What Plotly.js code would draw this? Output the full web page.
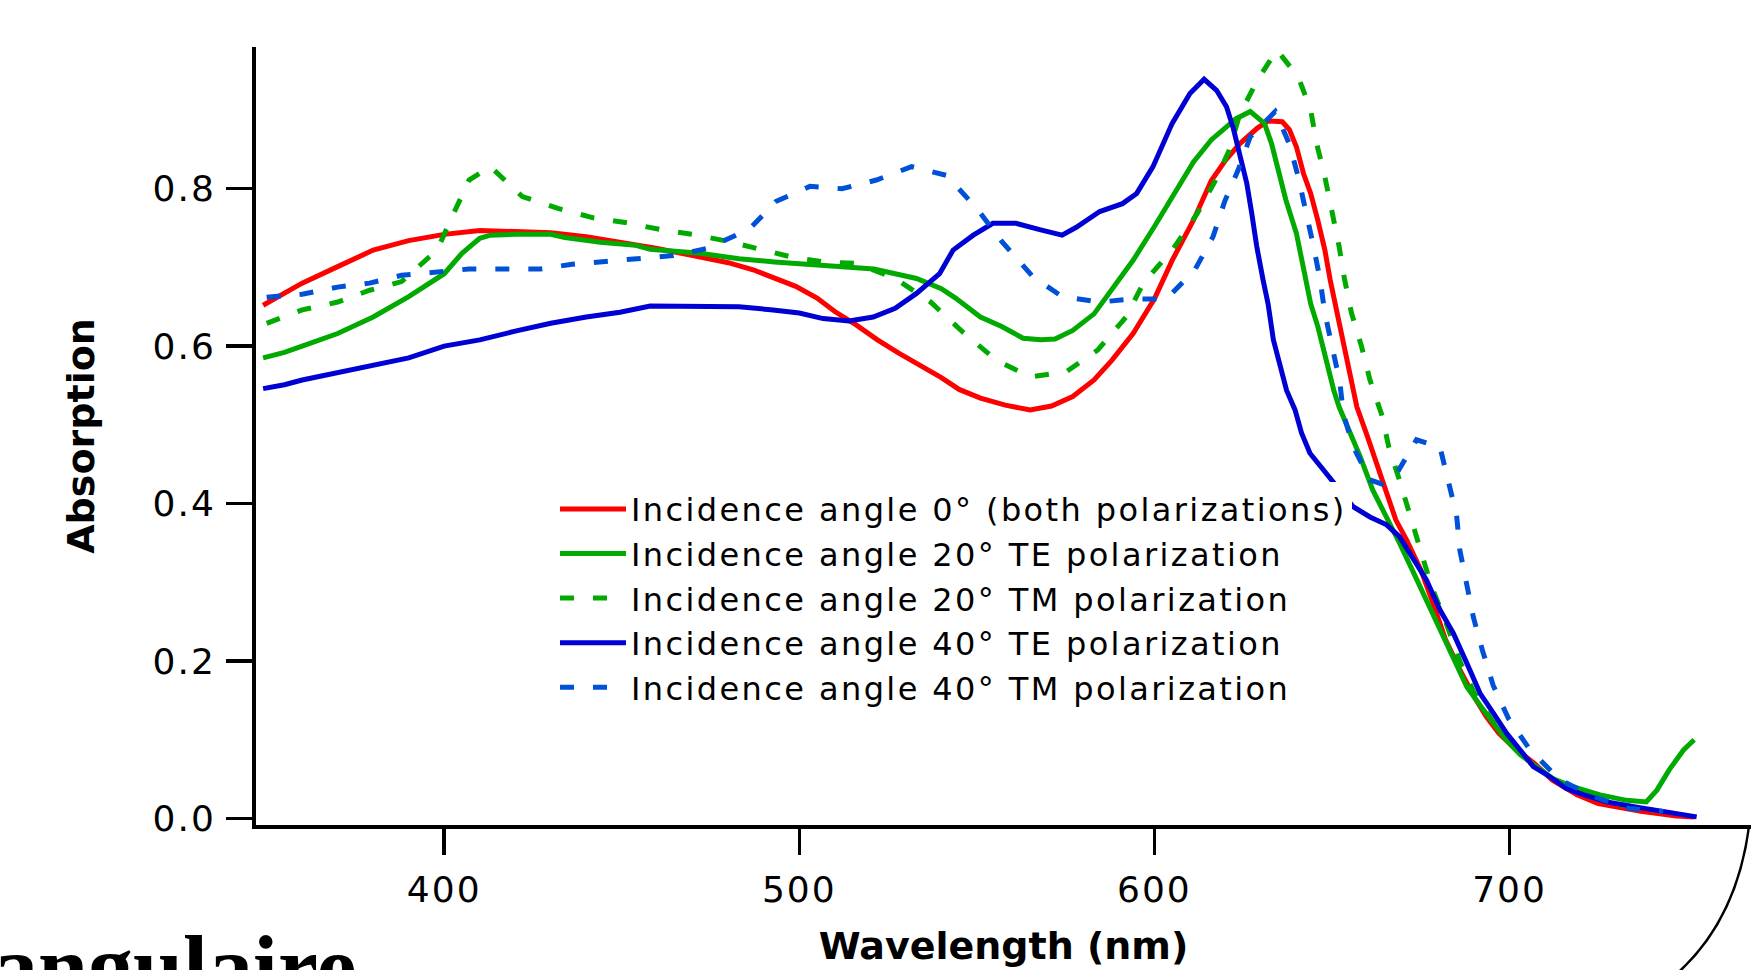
<!DOCTYPE html>
<html>
<head>
<meta charset="utf-8">
<script src="https://cdn.plot.ly/plotly-3.0.1.min.js"></script>
<style>
  html, body { margin: 0; padding: 0; background: #ffffff; }
  #chart { width: 1751px; height: 970px; }
  .legendtext { letter-spacing: 2.4px; }
  .xtick text, .ytick text { letter-spacing: 2px; }
</style>
</head>
<body>
<div id="chart"></div>
<script>
// ---- Data (wavelength in nm, absorption) ----
const seriesNames = [
  "Incidence angle 0° (both polarizations)",
  "Incidence angle 20° TE polarization",
  "Incidence angle 20° TM polarization",
  "Incidence angle 40° TE polarization",
  "Incidence angle 40° TM polarization"
];

const wl0 = [349,355,360,370,380,390,400,410,420,430,440,450,460,470,480,487,492,499,505,510,516,522,528,534,540,545,551,558,565,571,577,583,588,594,600,605,611,616,620,624,629,632,636,638,640,642,644,646,648,649.5,651.5,653,655,657,660,662.5,665.5,668,671,675,678.5,682,686,690,693.5,697,701,707,712,719,725,737,747,752];
const abs0 = [0.652,0.668,0.680,0.701,0.722,0.734,0.742,0.747,0.746,0.744,0.739,0.732,0.724,0.715,0.706,0.697,0.688,0.676,0.661,0.644,0.627,0.608,0.591,0.576,0.560,0.545,0.534,0.525,0.519,0.524,0.536,0.557,0.582,0.616,0.660,0.709,0.760,0.810,0.836,0.857,0.877,0.886,0.885,0.875,0.853,0.819,0.794,0.760,0.722,0.684,0.642,0.608,0.561,0.523,0.485,0.451,0.408,0.379,0.354,0.316,0.273,0.227,0.189,0.155,0.129,0.108,0.091,0.070,0.049,0.030,0.019,0.009,0.003,0.002];

const wl20te = [349,355,360,370,380,390,400,405,410,413,420,430,434,444,454,458,472,483,493,502,511,521,527,533,540,544,551,557,563,568,572,577,583,588,594,600,605,611,616,620,623,627,631,633,635,637,640,642,644,646,648,650.5,652,655,658,661.5,665.5,669,673,676.5,680.5,684,688,692,695.5,699,703,707.5,712,718,725.5,733,738.5,741.5,745,749,752];
const abs20te = [0.585,0.592,0.600,0.616,0.637,0.663,0.692,0.718,0.737,0.741,0.742,0.742,0.738,0.732,0.728,0.723,0.718,0.711,0.707,0.704,0.700,0.698,0.692,0.686,0.673,0.661,0.637,0.625,0.610,0.608,0.609,0.620,0.641,0.671,0.709,0.752,0.790,0.834,0.862,0.877,0.889,0.898,0.883,0.857,0.819,0.786,0.743,0.701,0.654,0.625,0.587,0.544,0.523,0.491,0.459,0.417,0.383,0.350,0.312,0.278,0.239,0.205,0.167,0.142,0.121,0.100,0.081,0.066,0.051,0.040,0.030,0.023,0.021,0.036,0.062,0.087,0.100];

const wl20tm = [350,360,370,379,388,398,402.5,407,413,422,432,442,451,461,470,480,489,498,507,516,527,537,546,555.5,565,575,584,592,597,605,612,617,621,624,629,634.5,640.5,644,645.7,648,650,652,653.5,655.5,658.3,660.7,664,666,669,672,675,678,682,686,690,695,700,706,713,720,728,735,741];
const abs20tm = [0.629,0.646,0.656,0.671,0.682,0.722,0.767,0.811,0.828,0.790,0.775,0.763,0.757,0.748,0.742,0.733,0.723,0.713,0.707,0.705,0.686,0.656,0.618,0.582,0.561,0.567,0.595,0.637,0.681,0.722,0.768,0.809,0.848,0.894,0.938,0.976,0.942,0.900,0.857,0.815,0.771,0.727,0.686,0.642,0.600,0.557,0.513,0.472,0.430,0.385,0.341,0.295,0.250,0.200,0.160,0.125,0.098,0.070,0.048,0.032,0.020,0.014,0.010];

const wl40te = [349,355,360,370,380,390,400,410,420,430,440,449.5,458,467,477,483,492.6,500,506.7,514,520.8,527,533,539.5,543.3,549,554.5,561,567.7,574,578,584.6,591,595,599.6,605,610,614,617.5,620.3,622.2,624,626,627.4,628.8,630.6,632,633.5,635.3,637.2,639.6,641.4,643.8,647.5,650.4,656,660.7,665.4,669,673,676.6,680.4,684.2,688,691.7,695.4,699.2,703,706.7,711.4,716,721,727.4,735,744.3,752.7];
const abs40te = [0.546,0.551,0.557,0.566,0.576,0.585,0.600,0.608,0.619,0.629,0.637,0.643,0.651,0.651,0.651,0.650,0.646,0.642,0.635,0.632,0.637,0.648,0.667,0.692,0.722,0.741,0.756,0.756,0.748,0.741,0.751,0.771,0.781,0.794,0.828,0.883,0.921,0.939,0.925,0.904,0.877,0.841,0.807,0.769,0.727,0.684,0.654,0.608,0.574,0.544,0.519,0.490,0.464,0.443,0.426,0.396,0.383,0.373,0.358,0.328,0.303,0.265,0.235,0.197,0.159,0.134,0.108,0.087,0.066,0.053,0.038,0.030,0.021,0.015,0.009,0.002];

const wl40tm = [350,360,370,379,388,398,407,417,427,436,446,455,464.5,474,483,486,493.5,503,512,521.7,531.6,541.4,550,557,565.8,574,584.6,594,603.4,611.4,616.5,619.8,623.6,627,634,638,640.5,642.8,644.7,646.6,648,650,652.2,653.2,656,660.7,664,668.2,673.8,680.4,682.8,685.1,686,688,689.8,692.4,695.4,699.7,705.8,714.2,723.6,733,743.3];
const abs40tm = [0.662,0.666,0.675,0.680,0.690,0.694,0.698,0.698,0.698,0.704,0.708,0.711,0.715,0.724,0.744,0.749,0.784,0.803,0.800,0.811,0.828,0.817,0.775,0.733,0.688,0.663,0.656,0.660,0.660,0.697,0.739,0.784,0.824,0.866,0.898,0.857,0.815,0.771,0.729,0.686,0.642,0.600,0.555,0.514,0.472,0.430,0.425,0.438,0.481,0.472,0.428,0.385,0.341,0.298,0.256,0.213,0.169,0.127,0.087,0.049,0.028,0.013,0.009];

const xTickVals = [400, 500, 600, 700];
const yTickVals = [0.0, 0.2, 0.4, 0.6, 0.8];

const RED = "#ff0000", GREEN = "#00aa00", BLUE = "#0000d4", LBLUE = "#0050d8";
const DASH = "14px,19px";
const LW = 5;

function tr(x, y, name, color, dash) {
  return {
    x: x, y: y, name: name, type: "scatter", mode: "lines",
    line: { color: color, width: LW, dash: dash || "solid" },
    hoverinfo: "skip"
  };
}

const data = [
  tr(wl0, abs0, seriesNames[0], RED),
  tr(wl20te, abs20te, seriesNames[1], GREEN),
  tr(wl20tm, abs20tm, seriesNames[2], GREEN, DASH),
  tr(wl40te, abs40te, seriesNames[3], BLUE),
  tr(wl40tm, abs40tm, seriesNames[4], LBLUE, DASH)
];

const tickFont = { family: "DejaVu Sans, Verdana, sans-serif", size: 36, color: "#000" };
const titleFont = { family: "DejaVu Sans, Verdana, sans-serif", size: 38, color: "#000", weight: 700 };

const layout = {
  width: 1751, height: 970,
  margin: { l: 256, r: 0, t: 47, b: 145, pad: 0 },
  paper_bgcolor: "#ffffff", plot_bgcolor: "#ffffff",
  showlegend: true,
  legend: {
    x: 0.2, xanchor: "left", y: 0.4414, yanchor: "top",
    bgcolor: "#ffffff", borderwidth: 0,
    font: { family: "DejaVu Sans, Verdana, sans-serif", size: 32, color: "#000" },
    itemwidth: 66, tracegroupgap: 0, traceorder: "normal"
  },
  xaxis: {
    range: [347, 768], showgrid: false, zeroline: false,
    showline: true, linecolor: "#000", linewidth: 4, mirror: false,
    ticks: "outside", ticklen: 26, tickwidth: 3.5, tickcolor: "#000",
    tickvals: xTickVals, ticktext: xTickVals.map(String),
    tickfont: tickFont, ticklabelstandoff: 4,
    title: { text: "Wavelength (nm)", font: titleFont, standoff: 24 }
  },
  yaxis: {
    range: [-0.0083, 0.98], showgrid: false, zeroline: false,
    showline: true, linecolor: "#000", linewidth: 4, mirror: false,
    ticks: "outside", ticklen: 26, tickwidth: 3.5, tickcolor: "#000",
    tickvals: yTickVals, ticktext: yTickVals.map(v => v.toFixed(1)),
    tickfont: tickFont, ticklabelstandoff: 3,
    title: { text: "Absorption", font: titleFont, standoff: 47 }
  },
  annotations: [
    {
      text: "angulaire", xref: "paper", yref: "paper",
      x: 0.0682, y: -0.183, xanchor: "right", yanchor: "middle",
      showarrow: false,
      font: { family: "Liberation Serif, Times New Roman, serif", size: 90, color: "#000", weight: 700 }
    }
  ],
  shapes: [
    {
      type: "path", xref: "paper", yref: "paper",
      path: "M 0.9987,-0.0013 Q 0.99,-0.13 0.945,-0.2",
      line: { color: "#000", width: 2.5 }
    }
  ]
};

Plotly.newPlot("chart", data, layout, { displayModeBar: false, staticPlot: true });
</script>
</body>
</html>
